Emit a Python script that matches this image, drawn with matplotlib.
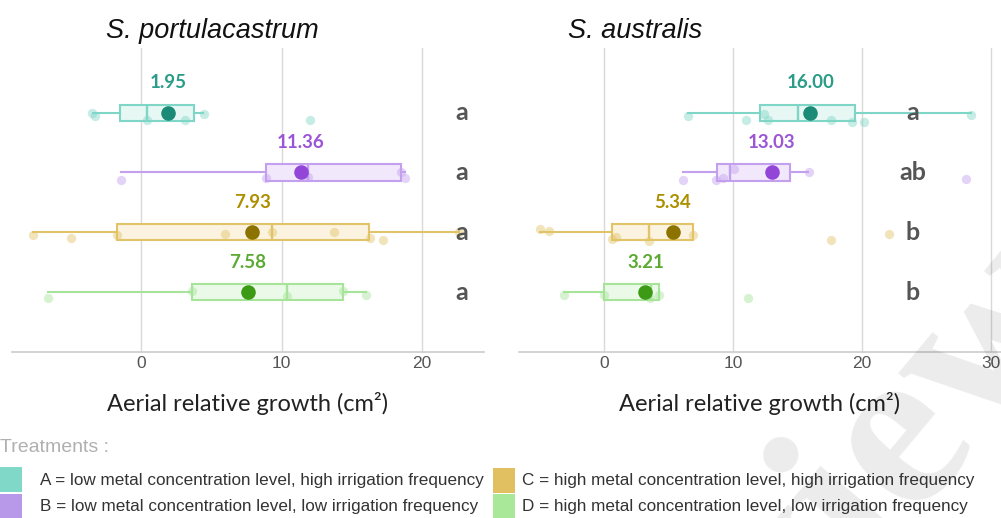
import matplotlib
matplotlib.use("Agg")
import matplotlib.pyplot as plt
from matplotlib.patches import Rectangle

# ---------------- data ----------------
treatments = ["A", "B", "C", "D"]
species = ["S. portulacastrum", "S. australis"]

# box stats per species, per treatment: (whislo, q1, median, q3, whishi)
portu_whislo = [-3.4, -1.45, -7.7, -6.6]
portu_q1 = [-1.5, 8.9, -1.7, 3.65]
portu_med = [0.4, 11.9, 9.3, 10.4]
portu_q3 = [3.8, 18.5, 16.25, 14.4]
portu_whishi = [4.4, 18.8, 22.6, 16.0]
portu_mean = [1.95, 11.36, 7.93, 7.58]
portu_letters = ["a", "a", "a", "a"]
portu_points = [
    [-3.5, -3.3, 0.4, 3.1, 4.5, 12.0],
    [-1.45, 8.9, 11.9, 18.5, 18.8],
    [-7.7, -5.0, -1.7, 6.0, 9.3, 13.7, 16.3, 17.25, 22.6],
    [-6.6, 3.6, 10.4, 14.4, 16.0],
]

austr_whislo = [6.5, 6.1, -4.95, -3.1]
austr_q1 = [12.07, 8.8, 0.62, 0.0]
austr_med = [15.06, 9.74, 3.5, 3.64]
austr_q3 = [19.45, 14.44, 6.93, 4.26]
austr_whishi = [28.5, 15.8, 6.93, 4.26]
austr_mean = [16.00, 13.03, 5.34, 3.21]
austr_letters = ["a", "ab", "b", "b"]
austr_points = [
    [6.5, 11.0, 12.4, 12.7, 17.6, 19.2, 20.2, 28.5],
    [6.1, 8.7, 9.2, 10.1, 15.9, 28.1],
    [-5.0, -4.3, 0.6, 0.9, 3.5, 6.9, 17.6, 22.1],
    [-3.1, 0.0, 3.6, 4.3, 11.2],
]

x_ticks = [0, 10, 20, 30]
x_label = "Aerial relative growth (cm²)"
legend_title = "Treatments :"
legend_labels = [
    "A = low metal concentration level, high irrigation frequency",
    "B = low metal concentration level, low irrigation frequency",
    "C = high metal concentration level, high irrigation frequency",
    "D = high metal concentration level, low irrigation frequency",
]
watermark = "Preview"

# ---------------- styles ----------------
edge_colors = ["#7fd6c6", "#c3a0ee", "#e2c468", "#a6e49a"]
fill_colors = ["#e6f7f4", "#f1e8fc", "#fbf3df", "#ebf9e8"]
mean_colors = ["#1b8a76", "#9345d8", "#8c7300", "#3c9a14"]
label_colors = ["#2a9c88", "#9b55d6", "#ad9000", "#5caa32"]
legend_colors = ["#80d8c8", "#b898e8", "#e0c060", "#a8e898"]

point_jitter = {
    0: [[0.0, 0.05, 0.12, 0.12, 0.02, 0.12],
        [0.12, 0.10, 0.07, 0.0, 0.10],
        [0.05, 0.10, 0.05, 0.03, 0.0, 0.0, 0.10, 0.13, 0.0],
        [0.10, -0.02, 0.07, -0.02, 0.04]],
    1: [[0.05, 0.13, 0.02, 0.13, 0.12, 0.16, 0.15, 0.04],
        [0.12, 0.12, 0.10, -0.05, 0.0, 0.11],
        [-0.05, -0.02, 0.12, 0.08, 0.15, 0.05, 0.13, 0.03],
        [0.05, 0.05, 0.10, 0.05, 0.10]],
}

W, H = 1001, 518
fig = plt.figure(figsize=(W / 100, H / 100), dpi=100)

axes_rects = [
    [12 / W, (H - 352) / H, 472 / W, (352 - 48) / H],
    [519 / W, (H - 352) / H, 482 / W, (352 - 48) / H],
]
xlims = [(-9.18, 24.4), (-6.6, 30.8)]
letter_x = [22.85, 23.94]
title_x = [212, 635]

panels = [
    (portu_whislo, portu_q1, portu_med, portu_q3, portu_whishi, portu_mean, portu_letters, portu_points),
    (austr_whislo, austr_q1, austr_med, austr_q3, austr_whishi, austr_mean, austr_letters, austr_points),
]

box_h = 0.27
for p, (wlo, q1, med, q3, whi, mean, letters, pts) in enumerate(panels):
    ax = fig.add_axes(axes_rects[p])
    ax.set_xlim(*xlims[p])
    ax.set_ylim(4.0, -1.08)
    ticks = [t for t in x_ticks if xlims[p][0] <= t <= xlims[p][1]]
    ax.set_xticks(ticks)
    ax.set_xticklabels([str(t) for t in ticks], fontsize=12.5, color="#555555",
                       family="Liberation Sans")
    ax.tick_params(axis="x", length=0, pad=3)
    ax.set_yticks([])
    for s in ["top", "left", "right"]:
        ax.spines[s].set_visible(False)
    ax.spines["bottom"].set_color("#cccccc")
    ax.spines["bottom"].set_linewidth(1.2)
    ax.xaxis.grid(True, color="#d9d9d9", linewidth=1.0)
    ax.set_axisbelow(True)

    for i in range(len(treatments)):
        st = dict(whislo=wlo[i], q1=q1[i], med=med[i], q3=q3[i], whishi=whi[i],
                  mean=mean[i], fliers=[], label=treatments[i])
        ax.bxp([st], positions=[i], vert=False, widths=box_h, patch_artist=True,
               showmeans=False, showcaps=False, showfliers=False,
               boxprops=dict(facecolor=fill_colors[i], edgecolor=edge_colors[i], linewidth=1.5),
               medianprops=dict(color=edge_colors[i], linewidth=1.7),
               whiskerprops=dict(color=edge_colors[i], linewidth=1.5),
               manage_ticks=False)
        ys = [i + d for d in point_jitter[p][i]]
        ax.scatter(pts[i], ys, s=45, color=edge_colors[i], alpha=0.45, linewidths=0, zorder=4,
                   clip_on=False)
        ax.scatter([mean[i]], [i], s=110, color=mean_colors[i], zorder=5, linewidths=0)
        ax.text(mean[i], i - 0.5, f"{mean[i]:.2f}", ha="center", va="center",
                fontsize=13.5, fontweight="bold", color=label_colors[i], family="Lato")
        ax.text(letter_x[p], i, letters[i], ha="center", va="center", fontsize=18,
                fontweight="bold", color="#555555", family="Lato", zorder=6)
    ax.set_xlabel(x_label, fontsize=17, family="Lato", color="#222222", labelpad=15)
    fig.text(title_x[p] / W, (H - 31) / H, species[p], ha="center", va="center",
             fontsize=19.5, style="italic", family="Liberation Sans", color="#111111")

# legend
fig.text(0 / W, (H - 447) / H, legend_title, ha="left", va="center", fontsize=14,
         color="#b0b0b0", family="Liberation Sans")
sq = [(0, 467), (0, 494), (493, 468), (493, 494)]
txt_x = [40, 40, 522, 522]
for i in range(4):
    x0, y0 = sq[i]
    fig.patches.append(Rectangle((x0 / W, (H - y0 - 25) / H), 22 / W, 25 / H,
                                 transform=fig.transFigure, facecolor=legend_colors[i],
                                 edgecolor="none"))
    fig.text(txt_x[i] / W, (H - (y0 + 13)) / H, legend_labels[i], ha="left", va="center",
             fontsize=12.3, color="#333333", family="Liberation Sans")

# faint watermark
fig.text(1089 / W, (H - 309) / H, watermark, ha="right", va="baseline", rotation=50,
         rotation_mode="anchor", fontsize=170, fontweight="bold", family="Liberation Serif",
         color="#000000", alpha=0.08, zorder=0)

fig.savefig("out.png", dpi=100)
